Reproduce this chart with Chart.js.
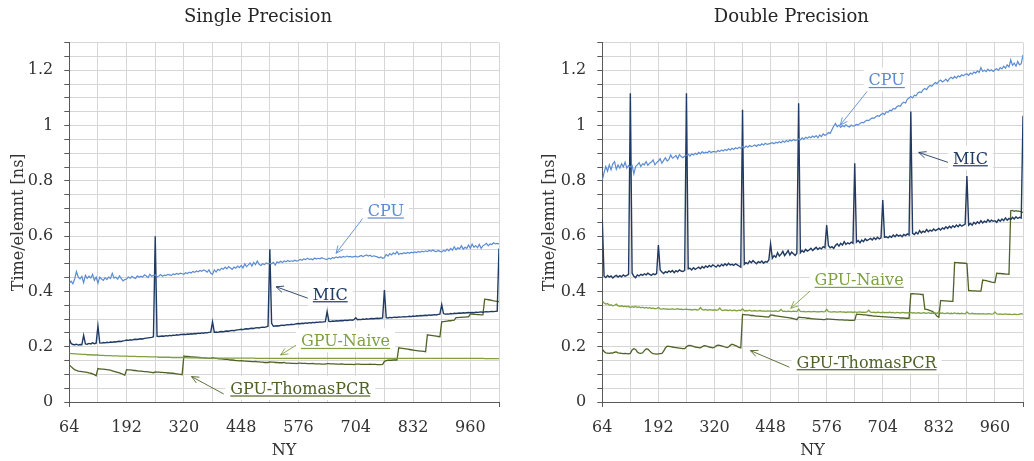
<!DOCTYPE html>
<html><head><meta charset="utf-8">
<script src="https://cdn.jsdelivr.net/npm/chart.js@4.4.1/dist/chart.umd.min.js"></script>
<style>
html,body{margin:0;padding:0;background:#fff;}
#wrap{position:relative;width:1034px;height:461px;overflow:hidden;}
canvas{position:absolute;top:0;}
</style>
</head><body>
<div id="wrap">
<canvas id="left" width="517" height="461" style="left:0"></canvas>
<canvas id="right" width="517" height="461" style="left:517px"></canvas>
</div>
<script>
// ---- categories (NY, step 4 from 64 to 1024) ----
const NY = Array.from({length: 241}, (_, i) => 64 + 4 * i);
const xTickLabels = [64, 192, 320, 448, 576, 704, 832, 960];
const yTickLabels = [0, 0.2, 0.4, 0.6, 0.8, 1, 1.2];
const seriesNames = ['CPU', 'MIC', 'GPU-Naive', 'GPU-ThomasPCR'];

// ---- Single precision ----
const sCPU = [
0.430,0.437,0.428,0.445,0.472,0.452,0.446,0.455,0.432,0.458,0.447,0.455,0.449,0.462,0.440,0.452,
0.430,0.452,0.445,0.440,0.450,0.443,0.452,0.447,0.466,0.448,0.452,0.444,0.456,0.447,0.438,0.443,
0.445,0.452,0.448,0.455,0.450,0.447,0.456,0.451,0.455,0.452,0.460,0.456,0.450,0.462,0.455,0.458,
0.460,0.452,0.456,0.461,0.455,0.459,0.457,0.462,0.460,0.458,0.463,0.461,0.465,0.462,0.466,0.464,
0.462,0.468,0.465,0.470,0.467,0.472,0.469,0.474,0.471,0.476,0.473,0.478,0.475,0.470,0.478,0.466,
0.462,0.478,0.470,0.480,0.476,0.484,0.480,0.488,0.482,0.490,0.485,0.480,0.488,0.484,0.492,0.486,
0.494,0.485,0.500,0.490,0.496,0.503,0.492,0.505,0.497,0.510,0.498,0.494,0.500,0.497,0.503,0.500,
0.502,0.500,0.505,0.495,0.507,0.504,0.509,0.505,0.510,0.507,0.512,0.508,0.511,0.509,0.513,0.510,
0.512,0.516,0.513,0.518,0.515,0.520,0.516,0.518,0.515,0.521,0.517,0.520,0.518,0.522,0.519,0.517,
0.516,0.520,0.517,0.523,0.520,0.525,0.522,0.526,0.523,0.527,0.524,0.528,0.525,0.527,0.524,0.526,
0.528,0.524,0.527,0.530,0.526,0.529,0.532,0.528,0.531,0.526,0.529,0.527,0.525,0.522,0.525,0.520,
0.523,0.534,0.528,0.537,0.532,0.540,0.535,0.544,0.534,0.538,0.536,0.540,0.537,0.541,0.538,0.542,
0.540,0.543,0.541,0.545,0.542,0.546,0.543,0.547,0.544,0.549,0.545,0.550,0.546,0.544,0.548,0.545,
0.543,0.548,0.545,0.553,0.547,0.556,0.549,0.562,0.551,0.558,0.554,0.565,0.553,0.560,0.556,0.568,
0.556,0.571,0.560,0.566,0.558,0.570,0.556,0.565,0.569,0.574,0.565,0.572,0.570,0.576,0.572,0.574,
0.572];
const sMIC = [
0.228,0.212,0.208,0.207,0.209,0.206,0.208,0.207,0.241,0.210,0.209,0.212,0.210,0.214,0.211,0.213,
0.275,0.214,0.213,0.215,0.214,0.216,0.215,0.217,0.216,0.218,0.217,0.219,0.220,0.219,0.221,0.222,
0.224,0.223,0.225,0.224,0.226,0.227,0.226,0.228,0.229,0.228,0.230,0.231,0.232,0.233,0.234,0.236,
0.600,0.238,0.237,0.238,0.239,0.238,0.240,0.239,0.241,0.240,0.242,0.241,0.243,0.242,0.244,0.244,
0.245,0.244,0.246,0.245,0.247,0.246,0.248,0.247,0.249,0.248,0.250,0.249,0.251,0.250,0.252,0.253,
0.290,0.252,0.253,0.252,0.254,0.255,0.254,0.256,0.257,0.256,0.258,0.259,0.258,0.260,0.261,0.262,
0.263,0.262,0.264,0.265,0.264,0.266,0.267,0.266,0.268,0.269,0.268,0.270,0.271,0.270,0.272,0.274,
0.553,0.285,0.274,0.275,0.276,0.275,0.277,0.278,0.277,0.279,0.280,0.279,0.281,0.280,0.282,0.283,
0.284,0.283,0.285,0.284,0.286,0.285,0.287,0.286,0.288,0.287,0.289,0.288,0.290,0.289,0.290,0.291,
0.327,0.292,0.291,0.293,0.292,0.294,0.293,0.294,0.295,0.294,0.296,0.295,0.296,0.297,0.296,0.298,
0.305,0.298,0.299,0.298,0.300,0.299,0.301,0.300,0.301,0.302,0.301,0.302,0.303,0.302,0.303,0.304,
0.405,0.305,0.304,0.306,0.305,0.306,0.307,0.306,0.308,0.307,0.308,0.309,0.308,0.309,0.310,0.309,
0.311,0.310,0.312,0.311,0.313,0.312,0.313,0.314,0.313,0.315,0.314,0.315,0.316,0.315,0.317,0.318,
0.352,0.320,0.318,0.319,0.318,0.320,0.319,0.321,0.320,0.321,0.322,0.321,0.323,0.322,0.323,0.324,
0.323,0.324,0.323,0.325,0.324,0.325,0.326,0.325,0.326,0.327,0.326,0.327,0.328,0.327,0.328,0.329,
0.555];
const sNaive = [
0.176,0.175,0.175,0.174,0.174,0.173,0.173,0.172,0.172,0.172,0.171,0.171,0.171,0.170,0.170,0.170,
0.170,0.169,0.169,0.169,0.168,0.168,0.168,0.168,0.167,0.167,0.167,0.167,0.166,0.166,0.166,0.166,
0.166,0.165,0.165,0.165,0.165,0.165,0.164,0.164,0.164,0.164,0.164,0.164,0.163,0.163,0.163,0.163,
0.163,0.163,0.162,0.162,0.162,0.162,0.162,0.162,0.162,0.161,0.161,0.161,0.161,0.161,0.161,0.161,
0.161,0.161,0.160,0.160,0.160,0.160,0.160,0.160,0.160,0.160,0.160,0.160,0.160,0.159,0.159,0.159,
0.159,0.159,0.159,0.159,0.159,0.159,0.159,0.159,0.159,0.159,0.159,0.159,0.159,0.159,0.159,0.159,
0.159,0.159,0.159,0.159,0.159,0.159,0.159,0.159,0.158,0.158,0.158,0.158,0.158,0.158,0.158,0.158,
0.158,0.158,0.158,0.158,0.158,0.158,0.158,0.158,0.158,0.158,0.158,0.158,0.158,0.158,0.158,0.158,
0.158,0.158,0.158,0.158,0.158,0.158,0.158,0.158,0.158,0.158,0.158,0.158,0.158,0.158,0.158,0.158,
0.158,0.158,0.158,0.158,0.158,0.158,0.158,0.158,0.158,0.158,0.158,0.158,0.158,0.158,0.158,0.158,
0.158,0.158,0.158,0.158,0.158,0.158,0.158,0.158,0.158,0.158,0.158,0.158,0.158,0.158,0.158,0.158,
0.158,0.158,0.158,0.158,0.158,0.158,0.158,0.158,0.158,0.158,0.158,0.158,0.158,0.158,0.158,0.158,
0.158,0.158,0.158,0.158,0.158,0.158,0.158,0.158,0.158,0.158,0.158,0.158,0.158,0.158,0.158,0.158,
0.158,0.158,0.158,0.158,0.158,0.158,0.158,0.158,0.158,0.158,0.158,0.158,0.158,0.158,0.158,0.158,
0.158,0.158,0.158,0.158,0.158,0.158,0.158,0.158,0.157,0.157,0.157,0.157,0.157,0.157,0.157,0.157,
0.157];
const sTPCR = [
0.134,0.128,0.122,0.117,0.114,0.112,0.111,0.110,0.109,0.108,0.107,0.105,0.104,0.102,0.099,0.095,
0.121,0.120,0.119,0.119,0.118,0.117,0.116,0.115,0.113,0.111,0.109,0.107,0.105,0.103,0.100,0.097,
0.117,0.116,0.116,0.115,0.114,0.114,0.113,0.112,0.112,0.111,0.110,0.110,0.109,0.108,0.107,0.106,
0.109,0.108,0.108,0.107,0.107,0.106,0.106,0.105,0.105,0.104,0.104,0.103,0.102,0.101,0.100,0.099,
0.166,0.165,0.165,0.164,0.163,0.163,0.162,0.162,0.161,0.161,0.160,0.160,0.159,0.159,0.158,0.158,
0.160,0.159,0.158,0.157,0.156,0.156,0.155,0.154,0.155,0.153,0.152,0.152,0.151,0.150,0.150,0.149,
0.150,0.149,0.148,0.148,0.147,0.147,0.146,0.146,0.147,0.145,0.145,0.144,0.144,0.143,0.143,0.143,
0.145,0.144,0.144,0.143,0.143,0.142,0.142,0.142,0.143,0.141,0.141,0.141,0.140,0.140,0.140,0.139,
0.141,0.141,0.140,0.140,0.140,0.139,0.139,0.139,0.140,0.138,0.138,0.138,0.138,0.137,0.137,0.137,
0.139,0.139,0.138,0.138,0.138,0.137,0.137,0.137,0.138,0.137,0.136,0.136,0.136,0.136,0.136,0.135,
0.137,0.137,0.137,0.136,0.136,0.136,0.136,0.136,0.137,0.136,0.136,0.136,0.135,0.135,0.135,0.136,
0.147,0.150,0.151,0.151,0.151,0.152,0.152,0.152,0.196,0.195,0.194,0.193,0.192,0.191,0.190,0.189,
0.188,0.187,0.186,0.185,0.184,0.184,0.183,0.182,0.243,0.242,0.241,0.240,0.239,0.238,0.237,0.236,
0.290,0.291,0.292,0.293,0.294,0.294,0.295,0.296,0.305,0.305,0.306,0.306,0.307,0.307,0.308,0.308,
0.318,0.318,0.317,0.317,0.316,0.316,0.315,0.315,0.372,0.371,0.370,0.369,0.368,0.366,0.365,0.364,
0.363];

// ---- Double precision ----
const dCPU = [
0.803,0.830,0.852,0.835,0.858,0.840,0.862,0.870,0.842,0.858,0.846,0.862,0.850,0.868,0.846,0.855,
0.850,0.856,0.825,0.852,0.858,0.866,0.852,0.862,0.858,0.870,0.856,0.864,0.868,0.876,0.858,0.866,
0.872,0.880,0.864,0.874,0.884,0.872,0.878,0.894,0.882,0.886,0.892,0.880,0.895,0.888,0.884,0.890,
0.892,0.896,0.890,0.898,0.894,0.900,0.896,0.903,0.898,0.906,0.900,0.904,0.902,0.908,0.903,0.906,
0.906,0.904,0.910,0.906,0.912,0.908,0.914,0.910,0.916,0.912,0.918,0.914,0.920,0.916,0.922,0.918,
0.924,0.920,0.926,0.922,0.928,0.924,0.926,0.930,0.925,0.932,0.928,0.934,0.930,0.936,0.932,0.934,
0.936,0.938,0.934,0.940,0.937,0.942,0.938,0.944,0.940,0.946,0.942,0.948,0.944,0.950,0.946,0.948,
0.952,0.948,0.956,0.950,0.958,0.954,0.960,0.956,0.962,0.958,0.964,0.956,0.966,0.960,0.970,0.965,
0.968,0.975,0.972,0.985,0.998,1.008,0.996,1.002,0.994,1.000,0.996,1.003,0.998,0.995,1.002,0.998,
1.000,1.004,1.002,1.008,1.012,1.010,1.016,1.020,1.018,1.024,1.028,1.026,1.032,1.036,1.034,1.040,
1.045,1.040,1.050,1.048,1.056,1.054,1.062,1.060,1.068,1.072,1.070,1.080,1.085,1.082,1.095,1.100,
1.105,1.100,1.110,1.108,1.118,1.122,1.120,1.130,1.134,1.130,1.140,1.145,1.142,1.150,1.156,1.152,
1.160,1.165,1.158,1.162,1.168,1.160,1.170,1.175,1.170,1.178,1.172,1.180,1.176,1.184,1.180,1.186,
1.187,1.182,1.190,1.186,1.194,1.190,1.198,1.192,1.210,1.196,1.200,1.195,1.204,1.198,1.202,1.196,
1.202,1.206,1.200,1.210,1.205,1.215,1.208,1.220,1.212,1.238,1.218,1.226,1.215,1.232,1.220,1.224,
1.256];
const dMIC = [
0.660,0.455,0.450,0.458,0.452,0.456,0.449,0.455,0.458,0.452,0.457,0.453,0.460,0.455,0.458,0.462,
1.117,0.466,0.455,0.450,0.460,0.456,0.462,0.458,0.464,0.460,0.466,0.462,0.458,0.464,0.461,0.465,
0.568,0.478,0.470,0.465,0.472,0.468,0.474,0.470,0.476,0.468,0.475,0.471,0.478,0.474,0.472,0.476,
1.117,0.482,0.484,0.478,0.486,0.480,0.484,0.488,0.482,0.490,0.485,0.492,0.487,0.494,0.489,0.496,
0.492,0.488,0.496,0.490,0.498,0.493,0.500,0.494,0.502,0.496,0.498,0.494,0.500,0.496,0.492,0.488,
1.057,0.498,0.504,0.500,0.510,0.504,0.512,0.506,0.500,0.508,0.504,0.510,0.502,0.508,0.506,0.514,
0.572,0.520,0.530,0.524,0.540,0.528,0.535,0.545,0.530,0.538,0.548,0.532,0.542,0.536,0.530,0.538,
1.081,0.540,0.548,0.542,0.552,0.546,0.550,0.556,0.548,0.554,0.560,0.552,0.558,0.554,0.562,0.558,
0.640,0.566,0.558,0.562,0.556,0.566,0.572,0.564,0.574,0.568,0.580,0.570,0.576,0.572,0.578,0.574,
0.864,0.578,0.584,0.576,0.586,0.580,0.590,0.584,0.588,0.592,0.586,0.594,0.588,0.596,0.590,0.594,
0.731,0.596,0.598,0.594,0.600,0.596,0.604,0.598,0.606,0.600,0.604,0.598,0.606,0.602,0.608,0.604,
1.051,0.610,0.606,0.614,0.608,0.620,0.612,0.618,0.614,0.624,0.616,0.622,0.618,0.626,0.620,0.624,
0.628,0.622,0.630,0.626,0.634,0.628,0.636,0.630,0.638,0.632,0.640,0.634,0.642,0.636,0.640,0.644,
0.818,0.640,0.646,0.640,0.650,0.644,0.652,0.646,0.656,0.648,0.654,0.650,0.660,0.652,0.658,0.654,
0.656,0.650,0.660,0.654,0.662,0.656,0.666,0.658,0.664,0.660,0.668,0.662,0.670,0.664,0.668,0.666,
1.036];
const dNaive = [
0.365,0.358,0.354,0.356,0.350,0.352,0.348,0.350,0.354,0.348,0.346,0.348,0.345,0.347,0.344,0.346,
0.342,0.345,0.343,0.346,0.342,0.344,0.341,0.343,0.340,0.342,0.340,0.341,0.338,0.340,0.337,0.339,
0.342,0.337,0.336,0.338,0.336,0.337,0.335,0.336,0.337,0.335,0.336,0.338,0.335,0.336,0.334,0.335,
0.336,0.334,0.335,0.333,0.334,0.335,0.333,0.334,0.342,0.334,0.333,0.335,0.332,0.334,0.333,0.332,
0.334,0.332,0.333,0.340,0.332,0.331,0.333,0.332,0.331,0.333,0.330,0.332,0.331,0.330,0.332,0.331,
0.337,0.330,0.331,0.330,0.332,0.329,0.330,0.331,0.329,0.330,0.331,0.329,0.330,0.328,0.330,0.329,
0.330,0.328,0.329,0.330,0.328,0.329,0.335,0.328,0.329,0.327,0.329,0.328,0.327,0.329,0.328,0.327,
0.336,0.328,0.327,0.328,0.326,0.327,0.328,0.326,0.327,0.328,0.326,0.327,0.326,0.328,0.326,0.327,
0.335,0.327,0.326,0.325,0.327,0.326,0.325,0.326,0.327,0.325,0.326,0.324,0.326,0.325,0.326,0.324,
0.326,0.324,0.325,0.326,0.324,0.325,0.324,0.326,0.332,0.325,0.324,0.325,0.323,0.325,0.324,0.323,
0.325,0.323,0.324,0.323,0.325,0.323,0.324,0.322,0.324,0.323,0.322,0.324,0.323,0.322,0.323,0.322,
0.324,0.322,0.323,0.321,0.323,0.322,0.321,0.323,0.322,0.321,0.323,0.321,0.322,0.321,0.322,0.320,
0.327,0.321,0.322,0.320,0.321,0.322,0.320,0.321,0.320,0.322,0.320,0.321,0.319,0.321,0.320,0.319,
0.326,0.320,0.319,0.321,0.319,0.320,0.319,0.320,0.318,0.320,0.319,0.318,0.320,0.319,0.318,0.319,
0.326,0.319,0.318,0.319,0.317,0.318,0.319,0.317,0.318,0.317,0.316,0.318,0.317,0.316,0.318,0.320,
0.318];
const dTPCR = [
0.191,0.183,0.178,0.177,0.176,0.178,0.177,0.180,0.181,0.178,0.177,0.176,0.175,0.176,0.175,0.174,
0.176,0.188,0.193,0.190,0.181,0.177,0.176,0.178,0.186,0.192,0.191,0.185,0.178,0.175,0.174,0.173,
0.174,0.175,0.176,0.184,0.196,0.202,0.201,0.200,0.199,0.198,0.197,0.196,0.195,0.194,0.193,0.193,
0.200,0.204,0.205,0.203,0.201,0.199,0.198,0.197,0.196,0.200,0.204,0.203,0.201,0.199,0.198,0.196,
0.198,0.203,0.206,0.205,0.203,0.201,0.199,0.197,0.199,0.205,0.209,0.207,0.204,0.201,0.198,0.196,
0.317,0.316,0.315,0.315,0.314,0.313,0.313,0.312,0.311,0.311,0.310,0.310,0.309,0.308,0.308,0.307,
0.315,0.314,0.313,0.312,0.311,0.310,0.309,0.308,0.307,0.306,0.305,0.304,0.303,0.302,0.300,0.298,
0.307,0.306,0.305,0.305,0.304,0.303,0.303,0.302,0.301,0.301,0.300,0.300,0.299,0.299,0.298,0.298,
0.301,0.300,0.300,0.299,0.299,0.298,0.298,0.297,0.297,0.297,0.296,0.296,0.296,0.295,0.295,0.295,
0.296,0.318,0.317,0.317,0.316,0.315,0.315,0.314,0.313,0.313,0.312,0.311,0.311,0.310,0.310,0.309,
0.309,0.308,0.308,0.307,0.307,0.306,0.306,0.305,0.305,0.305,0.304,0.304,0.304,0.303,0.303,0.303,
0.391,0.392,0.391,0.391,0.390,0.390,0.389,0.389,0.336,0.335,0.333,0.331,0.329,0.325,0.318,0.310,
0.307,0.367,0.367,0.366,0.366,0.365,0.365,0.364,0.364,0.505,0.504,0.504,0.503,0.503,0.502,0.502,
0.501,0.403,0.403,0.402,0.402,0.402,0.401,0.401,0.401,0.441,0.440,0.439,0.437,0.436,0.434,0.433,
0.432,0.466,0.465,0.465,0.464,0.464,0.463,0.463,0.462,0.692,0.693,0.690,0.692,0.691,0.690,0.689,
0.685];

// ---- styling ----
const FONT = '"DejaVu Serif", "Liberation Serif", serif';
const COLORS = { 'CPU': '#5B8CD2', 'MIC': '#1F3A63', 'GPU-Naive': '#7FA142', 'GPU-ThomasPCR': '#4F6228' };
const WIDTHS = { 'CPU': 1.2, 'MIC': 1.4, 'GPU-Naive': 1.3, 'GPU-ThomasPCR': 1.3 };
const TEXT = '#333333';

function toPts(arr) { return NY.map((x, i) => ({ x: x, y: arr[i] })); }

const annotPlugin = {
  id: 'annot',
  afterDatasetsDraw(chart, args, opts) {
    const xs = chart.scales.x, ys = chart.scales.y, ctx = chart.ctx;
    ctx.save();
    // panel title
    ctx.font = '18px ' + FONT;
    ctx.fillStyle = '#262626';
    ctx.textAlign = 'center';
    ctx.textBaseline = 'alphabetic';
    ctx.fillText(opts.title, opts.titleX, 21.5);
    for (const a of opts.items) {
      const col = COLORS[a.name];
      const x1 = xs.getPixelForValue(a.from[0]), y1 = ys.getPixelForValue(a.from[1]);
      const x2 = xs.getPixelForValue(a.to[0]), y2 = ys.getPixelForValue(a.to[1]);
      ctx.strokeStyle = col; ctx.lineWidth = 0.9;
      ctx.beginPath(); ctx.moveTo(x1, y1); ctx.lineTo(x2, y2); ctx.stroke();
      const ang = Math.atan2(y2 - y1, x2 - x1), L = 8, sp = 0.42;
      ctx.beginPath();
      ctx.moveTo(x2 - L * Math.cos(ang - sp), y2 - L * Math.sin(ang - sp));
      ctx.lineTo(x2, y2);
      ctx.lineTo(x2 - L * Math.cos(ang + sp), y2 - L * Math.sin(ang + sp));
      ctx.stroke();
      ctx.font = '16px ' + FONT;
      const w = ctx.measureText(a.name).width;
      const cx = xs.getPixelForValue(a.at[0]), cy = ys.getPixelForValue(a.at[1]);
      ctx.fillStyle = '#ffffff';
      ctx.fillRect(cx - w / 2 - 5, cy - 12, w + 10, 24);
      ctx.fillStyle = col;
      ctx.textAlign = 'center'; ctx.textBaseline = 'alphabetic';
      ctx.fillText(a.name, cx, cy + 6);
      ctx.fillRect(cx - w / 2, cy + 7.5, w, 1.2);
    }
    ctx.restore();
  }
};

function makeChart(id, data, pad, yWidth, annot) {
  const datasets = seriesNames.map((n, k) => ({
    label: n, data: toPts(data[k]), borderColor: COLORS[n], backgroundColor: COLORS[n],
    borderWidth: WIDTHS[n], pointRadius: 0, tension: 0, fill: false
  }));
  return new Chart(document.getElementById(id), {
    type: 'line',
    data: { datasets },
    plugins: [annotPlugin],
    options: {
      responsive: false, animation: false, devicePixelRatio: 1,
      layout: { padding: pad },
      plugins: { legend: { display: false }, title: { display: false }, tooltip: { enabled: false }, annot: annot },
      scales: {
        x: {
          type: 'linear', min: 64, max: 1024,
          afterFit: s => { s.height = 59; },
          ticks: {
            stepSize: 64, autoSkip: false, maxRotation: 0, padding: 11, color: TEXT,
            font: { family: FONT, size: 16 },
            callback: v => xTickLabels.includes(v) ? String(v) : ''
          },
          grid: { color: '#D6D6D6', lineWidth: 1, drawTicks: true, tickLength: 5,
                  tickColor: c => (c.tick && (c.tick.value === 64 || c.tick.value === 1024)) ? '#595959' : 'rgba(0,0,0,0)' },
          border: { display: true, color: '#595959', width: 1 },
          title: { display: true, text: 'NY', color: TEXT, font: { family: FONT, size: 16 }, padding: { top: 0, bottom: 1 } }
        },
        y: {
          type: 'linear', min: 0, max: 1.3,
          afterFit: s => { s.width = yWidth; },
          ticks: {
            stepSize: 0.05, autoSkip: false, padding: 11, color: TEXT,
            font: { family: FONT, size: 16 },
            callback: v => { const r = Math.round(v * 100); return (r % 20 === 0) ? String(Math.round(v * 10) / 10) : ''; }
          },
          grid: { color: '#D6D6D6', lineWidth: 1, drawTicks: true, tickLength: 5, tickColor: '#595959' },
          border: { display: true, color: '#595959', width: 1 },
          title: { display: true, text: 'Time/elemnt [ns]', color: TEXT, font: { family: FONT, size: 16 }, padding: { top: 9, bottom: 0 } }
        }
      }
    }
  });
}

makeChart('left', [sCPU, sMIC, sNaive, sTPCR], { top: 42.7, left: 0, right: 18, bottom: 0 }, 69.3, {
  title: 'Single Precision', titleX: 258,
  items: [
    { name: 'CPU', at: [771, 0.695], from: [723, 0.671], to: [660, 0.538] },
    { name: 'MIC', at: [647, 0.392], from: [608, 0.369], to: [526, 0.417] },
    { name: 'GPU-Naive', at: [681, 0.223], from: [575, 0.210], to: [536, 0.170] },
    { name: 'GPU-ThomasPCR', at: [580, 0.051], from: [409, 0.029], to: [337, 0.092] }
  ]
});
makeChart('right', [dCPU, dMIC, dNaive, dTPCR], { top: 42.7, left: 14, right: 2.7, bottom: 0 }, 71.3, {
  title: 'Double Precision', titleX: 274.3,
  items: [
    { name: 'CPU', at: [713, 1.167], from: [674, 1.135], to: [607, 1.002] },
    { name: 'MIC', at: [904, 0.884], from: [864, 0.861], to: [786, 0.903] },
    { name: 'GPU-Naive', at: [650, 0.444], from: [549, 0.417], to: [494, 0.339] },
    { name: 'GPU-ThomasPCR', at: [667, 0.146], from: [491, 0.126], to: [402, 0.186] }
  ]
});
</script>
</body></html>
